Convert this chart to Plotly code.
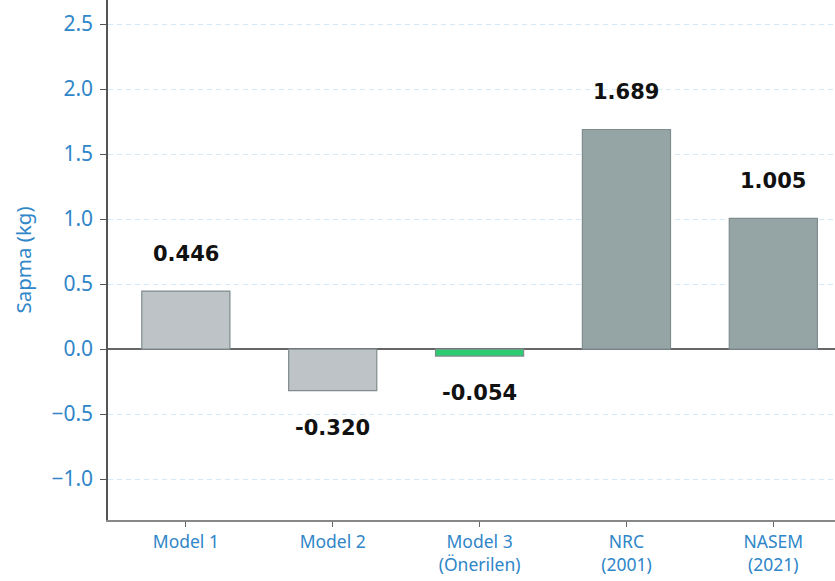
import plotly.graph_objects as go

categories = ["Model 1", "Model 2", "Model 3<br>(Önerilen)", "NRC<br>(2001)", "NASEM<br>(2021)"]
values = [0.446, -0.320, -0.054, 1.689, 1.005]
labels = ["0.446", "-0.320", "-0.054", "1.689", "1.005"]
colors = ["#bdc3c7", "#bdc3c7", "#2ecc71", "#95a5a6", "#95a5a6"]
y_ticks = [-1.0, -0.5, 0.0, 0.5, 1.0, 1.5, 2.0, 2.5]

blue = "#2f86c8"
font = "Noto Sans"

fig = go.Figure()
fig.add_trace(go.Bar(
    x=list(range(len(categories))), y=values,
    marker=dict(color=colors, line=dict(color="#7f8c8d", width=1.2)),
    width=0.6, showlegend=False,
))

for i, (v, t) in enumerate(zip(values, labels)):
    fig.add_annotation(
        x=i, y=v, text=f"<b>{t}</b>", showarrow=False,
        yshift=37 if v >= 0 else -37, yanchor="middle",
        font=dict(family="DejaVu Sans", size=21, color="#111111"),
    )

fig.update_layout(
    width=835, height=581,
    margin=dict(l=108, r=0, t=0, b=61),
    plot_bgcolor="white", paper_bgcolor="white",
    bargap=0.4,
)
fig.update_xaxes(
    range=[-0.53, 4.42],
    tickvals=list(range(len(categories))), ticktext=categories,
    tickfont=dict(family=font, size=17.5, color=blue),
    showline=True, linecolor="#888888", linewidth=1.5,
    ticks="outside", ticklen=5, tickcolor="#666666",
    showgrid=False, zeroline=False,
)
fig.update_yaxes(
    range=[-1.315, 2.685],
    tickvals=y_ticks, ticktext=[f"{v:.1f}".replace("-", "\u2212") for v in y_ticks],
    tickfont=dict(family=font, size=21, color=blue),
    ticklabelstandoff=3,
    title=dict(text="Sapma (kg)", font=dict(family=font, size=20.5, color=blue), standoff=14),
    showline=True, linecolor="#555555", linewidth=1.5,
    ticks="outside", ticklen=6, tickcolor="#555555",
    showgrid=True, gridcolor="#d4e8f8", gridwidth=1, griddash="5px,4px",
    zeroline=True, zerolinecolor="#666666", zerolinewidth=1.5,
)

fig.write_html("out.html")
